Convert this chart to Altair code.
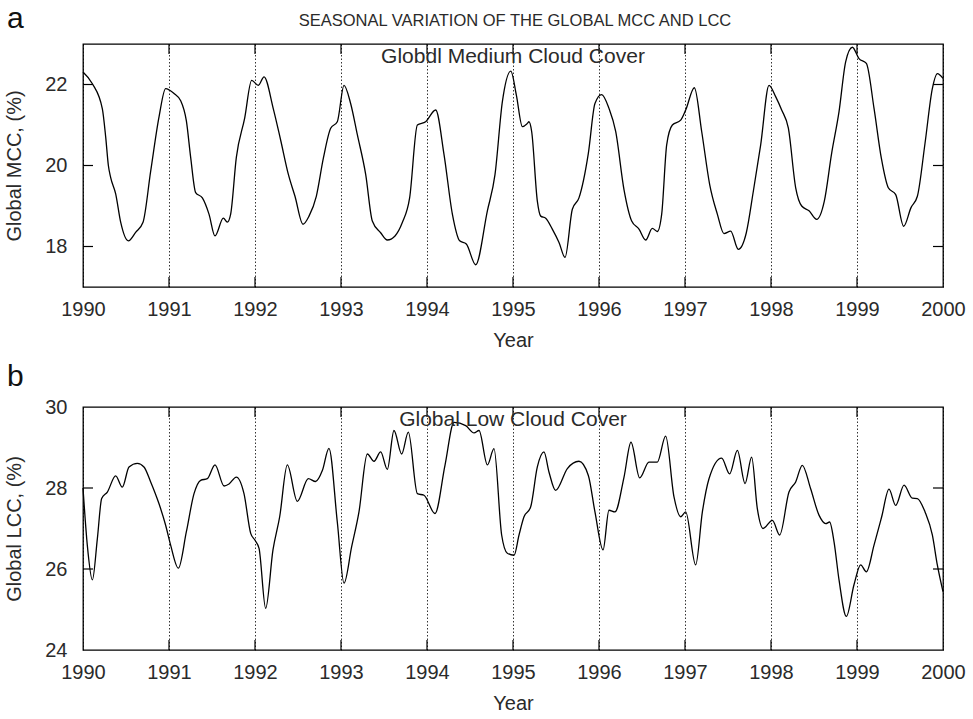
import altair as alt
import pandas as pd

# ---------------- data ----------------
mcc_year = [1990.000, 1990.109, 1990.225, 1990.264, 1990.295, 1990.322, 1990.380, 1990.438,
            1990.527, 1990.612, 1990.698, 1990.787, 1990.884, 1990.961, 1991.058, 1991.136,
            1991.202, 1991.252, 1991.310, 1991.388, 1991.465, 1991.535, 1991.632, 1991.678,
            1991.717, 1991.783, 1991.880, 1991.961, 1992.039, 1992.105, 1992.213, 1992.298,
            1992.388, 1992.465, 1992.558, 1992.628, 1992.713, 1992.795, 1992.880, 1992.957,
            1993.035, 1993.112, 1993.190, 1993.287, 1993.364, 1993.461, 1993.539, 1993.628,
            1993.713, 1993.798, 1993.888, 1993.984, 1994.101, 1994.198, 1994.295, 1994.380,
            1994.457, 1994.566, 1994.702, 1994.791, 1994.876, 1994.975, 1995.039, 1995.109,
            1995.167, 1995.186, 1995.217, 1995.283, 1995.322, 1995.380, 1995.457, 1995.535,
            1995.605, 1995.690, 1995.767, 1995.876, 1995.953, 1996.031, 1996.116, 1996.194,
            1996.291, 1996.380, 1996.465, 1996.543, 1996.620, 1996.678, 1996.729, 1996.787,
            1996.853, 1996.950, 1997.008, 1997.109, 1997.194, 1997.287, 1997.376, 1997.453,
            1997.531, 1997.620, 1997.713, 1997.795, 1997.880, 1997.977, 1998.054, 1998.124,
            1998.202, 1998.287, 1998.357, 1998.442, 1998.531, 1998.620, 1998.705, 1998.791,
            1998.868, 1998.946, 1999.023, 1999.109, 1999.198, 1999.283, 1999.364, 1999.450,
            1999.543, 1999.628, 1999.702, 1999.791, 1999.876, 1999.934, 2000.000]
mcc_val = [22.31, 22.02, 21.40, 20.70, 20.00, 19.70, 19.30, 18.60,
           18.14, 18.35, 18.60, 19.86, 21.20, 21.90, 21.78, 21.60,
           21.10, 20.20, 19.33, 19.20, 18.80, 18.26, 18.70, 18.60,
           18.80, 20.20, 21.17, 22.10, 21.98, 22.19, 21.40, 20.63,
           19.78, 19.24, 18.55, 18.75, 19.24, 20.18, 20.92, 21.08,
           21.98, 21.53, 20.76, 19.78, 18.63, 18.34, 18.16, 18.26,
           18.59, 19.20, 21.00, 21.08, 21.37, 20.27, 18.80, 18.14,
           18.06, 17.55, 18.88, 19.78, 21.57, 22.33, 21.74, 20.96,
           21.04, 21.08, 20.84, 19.12, 18.75, 18.70, 18.43, 18.10,
           17.73, 18.92, 19.20, 20.30, 21.53, 21.75, 21.41, 20.84,
           19.40, 18.63, 18.43, 18.16, 18.45, 18.37, 18.80, 20.51,
           21.00, 21.12, 21.37, 21.92, 20.84, 19.53, 18.80, 18.32,
           18.38, 17.93, 18.34, 19.37, 20.51, 21.98, 21.70, 21.37,
           20.92, 19.45, 19.00, 18.88, 18.67, 19.12, 20.30, 21.33,
           22.56, 22.92, 22.64, 22.52, 21.41, 20.18, 19.45, 19.28,
           18.50, 18.96, 19.24, 20.55, 21.90, 22.27, 22.15]

lcc_year = [1990.000, 1990.050, 1990.109, 1990.167, 1990.217, 1990.283, 1990.380, 1990.457,
            1990.535, 1990.632, 1990.709, 1990.787, 1990.884, 1990.961, 1991.019, 1991.109,
            1991.202, 1991.291, 1991.368, 1991.446, 1991.535, 1991.640, 1991.698, 1991.783,
            1991.872, 1991.950, 1992.000, 1992.047, 1992.124, 1992.209, 1992.287, 1992.376,
            1992.492, 1992.620, 1992.705, 1992.783, 1992.860, 1992.957, 1993.035, 1993.124,
            1993.209, 1993.306, 1993.384, 1993.461, 1993.539, 1993.616, 1993.705, 1993.783,
            1993.888, 1993.965, 1994.093, 1994.209, 1994.314, 1994.450, 1994.547, 1994.605,
            1994.702, 1994.779, 1994.868, 1994.934, 1995.012, 1995.070, 1995.128, 1995.205,
            1995.283, 1995.360, 1995.419, 1995.496, 1995.632, 1995.767, 1995.876, 1995.953,
            1996.047, 1996.116, 1996.186, 1996.291, 1996.372, 1996.473, 1996.581, 1996.678,
            1996.775, 1996.872, 1996.950, 1997.008, 1997.124, 1997.202, 1997.279, 1997.426,
            1997.519, 1997.609, 1997.698, 1997.775, 1997.841, 1997.907, 1998.016, 1998.101,
            1998.209, 1998.287, 1998.364, 1998.461, 1998.558, 1998.636, 1998.682, 1998.733,
            1998.791, 1998.876, 1998.965, 1999.043, 1999.109, 1999.198, 1999.287, 1999.372,
            1999.450, 1999.547, 1999.643, 1999.702, 1999.791, 1999.876, 1999.934, 2000.000]
lcc_val = [28.00, 26.59, 25.73, 26.75, 27.74, 27.90, 28.30, 28.02,
           28.52, 28.61, 28.52, 28.15, 27.61, 27.08, 26.59, 26.02,
           26.92, 27.86, 28.19, 28.23, 28.57, 28.05, 28.10, 28.27,
           27.86, 26.88, 26.71, 26.51, 25.03, 26.47, 27.29, 28.57,
           27.67, 28.23, 28.16, 28.43, 28.98, 27.16, 25.65, 26.55,
           27.41, 28.84, 28.66, 28.89, 28.46, 29.42, 28.84, 29.38,
           27.86, 27.82, 27.37, 28.56, 29.62, 29.54, 29.36, 29.42,
           28.57, 28.97, 26.84, 26.39, 26.34, 26.84, 27.29, 27.53,
           28.52, 28.89, 28.39, 27.94, 28.48, 28.66, 28.31, 27.41,
           26.47, 27.45, 27.41, 28.27, 29.13, 28.25, 28.64, 28.64,
           29.28, 27.78, 27.29, 27.41, 26.10, 27.41, 28.23, 28.74,
           28.35, 28.93, 28.11, 28.76, 27.49, 27.00, 27.20, 26.84,
           27.90, 28.15, 28.56, 27.98, 27.33, 27.12, 27.16, 26.67,
           25.73, 24.83, 25.61, 26.10, 25.93, 26.59, 27.29, 27.97,
           27.57, 28.07, 27.75, 27.74, 27.41, 26.84, 26.10, 25.44]

year_ticks = list(range(1990, 2001))
mcc_ticks = [18, 20, 22]
lcc_ticks = [24, 26, 28, 30]

FONT = "Liberation Sans"
TXT = "#2a2a2a"
W, H = 860, 243


def panel(years, vals, ydom, yticks, ytitle, inner, letter, letter_y, title=None):
    df = pd.DataFrame({"year": years, "val": vals})
    x = alt.X("year:Q", scale=alt.Scale(domain=[1990, 2000], nice=False, zero=False),
              axis=alt.Axis(values=year_ticks, format="d", title="Year", grid=True,
                            gridColor="#000", gridDash=[1.5, 2], gridWidth=0.8,
                            ticks=False, tickSize=0, labelPadding=12, titlePadding=11,
                            domain=False, labelFlush=False))
    y = alt.Y("val:Q", scale=alt.Scale(domain=ydom, nice=False, zero=False),
              axis=alt.Axis(values=yticks, title=ytitle, grid=False, ticks=False,
                            tickSize=0, labelPadding=16, titlePadding=20, domain=False,
                            labelFlush=False))
    line = alt.Chart(df).mark_line(color="#000", strokeWidth=1.3,
                                   interpolate="monotone").encode(x=x, y=y)

    lo, hi = ydom
    dy = (hi - lo) * 10.0 / H
    dx = 10.0 * 10.0 / W
    inner_years = year_ticks[1:-1]
    tk_rows = []
    for yr in inner_years:
        tk_rows.append({"x": yr, "x2": yr, "y": lo, "y2": lo + dy})
        tk_rows.append({"x": yr, "x2": yr, "y": hi - dy, "y2": hi})
    for v in yticks:
        if lo < v < hi:
            tk_rows.append({"x": 1990, "x2": 1990 + dx, "y": v, "y2": v})
            tk_rows.append({"x": 2000 - dx, "x2": 2000, "y": v, "y2": v})
    tk = alt.Chart(pd.DataFrame(tk_rows)).mark_rule(color="#000", strokeWidth=1.2).encode(
        x=alt.X("x:Q"), x2="x2:Q", y=alt.Y("y:Q"), y2="y2:Q")

    lab = alt.Chart(pd.DataFrame({"t": [inner]})).mark_text(
        font=FONT, fontSize=21, color=TXT, baseline="middle", align="center"
    ).encode(text="t:N", x=alt.value(W / 2), y=alt.value(13))

    let = alt.Chart(pd.DataFrame({"t": [letter]})).mark_text(
        font=FONT, fontSize=30, color="#111", baseline="alphabetic", align="left"
    ).encode(text="t:N", x=alt.value(-76), y=alt.value(letter_y))

    layers = [tk, line, lab, let]
    if title:
        ttl = alt.Chart(pd.DataFrame({"t": [title]})).mark_text(
            font=FONT, fontSize=16.5, color=TXT, baseline="middle", align="center"
        ).encode(text="t:N", x=alt.value(W / 2 + 2), y=alt.value(-23))
        layers.append(ttl)
    return alt.layer(*layers).properties(width=W, height=H)


top = panel(mcc_year, mcc_val, [17, 23], mcc_ticks, "Global MCC, (%)",
            "Globdl Medium Cloud Cover", "a", -16,
            title="SEASONAL VARIATION OF THE GLOBAL MCC AND LCC")
bottom = panel(lcc_year, lcc_val, [24, 30], lcc_ticks, "Global LCC, (%)",
               "Global Low Cloud Cover", "b", -21)

chart = alt.vconcat(top, bottom, spacing=10).configure(
    padding={"left": 4, "top": 3, "right": 4, "bottom": 2}
).configure_view(stroke="#000", strokeWidth=1.3).configure_axis(
    labelFont=FONT, labelFontSize=20, labelColor=TXT,
    titleFont=FONT, titleFontSize=20, titleFontWeight="normal", titleColor=TXT
)

chart.save("out.html", embed_options={"renderer": "svg", "actions": False})
